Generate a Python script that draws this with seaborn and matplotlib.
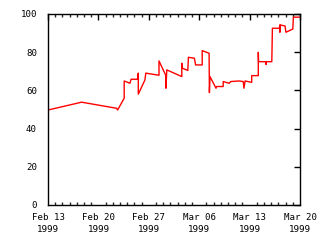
import matplotlib
matplotlib.use("Agg")
import matplotlib.pyplot as plt
import matplotlib.dates as mdates
import seaborn as sns
import pandas as pd

times = [
    "1999-02-13 00:00", "1999-02-17 16:00", "1999-02-22 13:00", "1999-02-22 16:00",
    "1999-02-23 14:00", "1999-02-23 14:00", "1999-02-24 09:00", "1999-02-24 13:00",
    "1999-02-25 10:00", "1999-02-25 13:00", "1999-02-25 13:00", "1999-02-26 11:00",
    "1999-02-26 14:00", "1999-02-28 10:00", "1999-02-28 10:00", "1999-03-01 09:00",
    "1999-03-01 09:00", "1999-03-01 12:00", "1999-03-03 14:00", "1999-03-03 14:00",
    "1999-03-03 16:00", "1999-03-04 10:00", "1999-03-04 12:00", "1999-03-05 08:00",
    "1999-03-05 12:00", "1999-03-06 10:00", "1999-03-06 10:00", "1999-03-07 09:00",
    "1999-03-07 10:00", "1999-03-07 12:00", "1999-03-08 08:00", "1999-03-08 10:00",
    "1999-03-09 08:00", "1999-03-09 08:00", "1999-03-10 04:00", "1999-03-10 09:00",
    "1999-03-11 13:00", "1999-03-12 03:00", "1999-03-12 05:00", "1999-03-12 09:00",
    "1999-03-13 07:00", "1999-03-13 07:00", "1999-03-14 05:00", "1999-03-14 05:00",
    "1999-03-14 06:00", "1999-03-15 05:00", "1999-03-15 07:00", "1999-03-15 08:00",
    "1999-03-16 02:00", "1999-03-16 04:00", "1999-03-17 03:00", "1999-03-17 05:00",
    "1999-03-17 05:00", "1999-03-17 06:00", "1999-03-17 22:00", "1999-03-18 01:00",
    "1999-03-19 00:00", "1999-03-19 02:00", "1999-03-20 00:00",
]
values = [
    49.7, 53.8, 50.6, 49.7,
    55.9, 64.9, 63.7, 65.8,
    65.8, 69.0, 58.0, 65.4,
    69.0, 67.9, 75.4, 67.7,
    61.1, 70.7, 67.2, 74.2,
    71.6, 70.4, 77.3, 76.8,
    73.3, 73.3, 80.8, 79.4,
    58.8, 67.2, 61.1, 62.0,
    62.0, 64.6, 63.7, 64.6,
    64.9, 64.6, 61.1, 64.9,
    64.2, 67.7, 67.7, 79.9,
    75.0, 75.0, 73.5, 75.0,
    75.0, 92.5, 92.5, 94.2,
    90.4, 94.2, 93.7, 90.4,
    92.1, 98.3, 98.3,
]
x_start = "1999-02-13"
x_end = "1999-03-20"
y_ticks = [0, 20, 40, 60, 80, 100]

df = pd.DataFrame({"t": pd.to_datetime(times), "v": values})

sns.set_style("white")
plt.rcParams["font.family"] = ["DejaVu Sans Mono"]

fig = plt.figure(figsize=(3.2, 2.4), dpi=100)
ax = fig.add_axes([0.15, 0.146, 0.7875, 0.796])
sns.lineplot(data=df, x="t", y="v", ax=ax, color="#ff0000", linewidth=1.0,
             sort=False, estimator=None)

ax.set_xlim(pd.Timestamp(x_start), pd.Timestamp(x_end))
ax.set_ylim(0, 100)
ax.set_yticks(y_ticks)
ax.xaxis.set_major_locator(mdates.DayLocator(bymonthday=[13, 20, 27, 6]))
ax.xaxis.set_major_formatter(mdates.DateFormatter("%b %d\n%Y"))
ax.xaxis.set_minor_locator(mdates.DayLocator())
ax.set_xlabel("")
ax.set_ylabel("")
for s in ax.spines.values():
    s.set_color("black")
    s.set_linewidth(1.0)
ax.tick_params(axis="both", which="major", direction="in", length=4, width=1,
               top=True, right=True, labelsize=6.6, colors="black")
ax.tick_params(axis="x", which="major", pad=5.5)
ax.tick_params(axis="y", which="major", pad=8)
ax.tick_params(axis="x", which="minor", direction="in", length=2, width=1,
               top=True, bottom=True)
ax.grid(False)
for lbl in ax.get_xticklabels():
    lbl.set_ha("center")
    lbl.set_multialignment("center")
    lbl.set_linespacing(1.45)

fig.savefig("out.png", dpi=100, facecolor="white")
